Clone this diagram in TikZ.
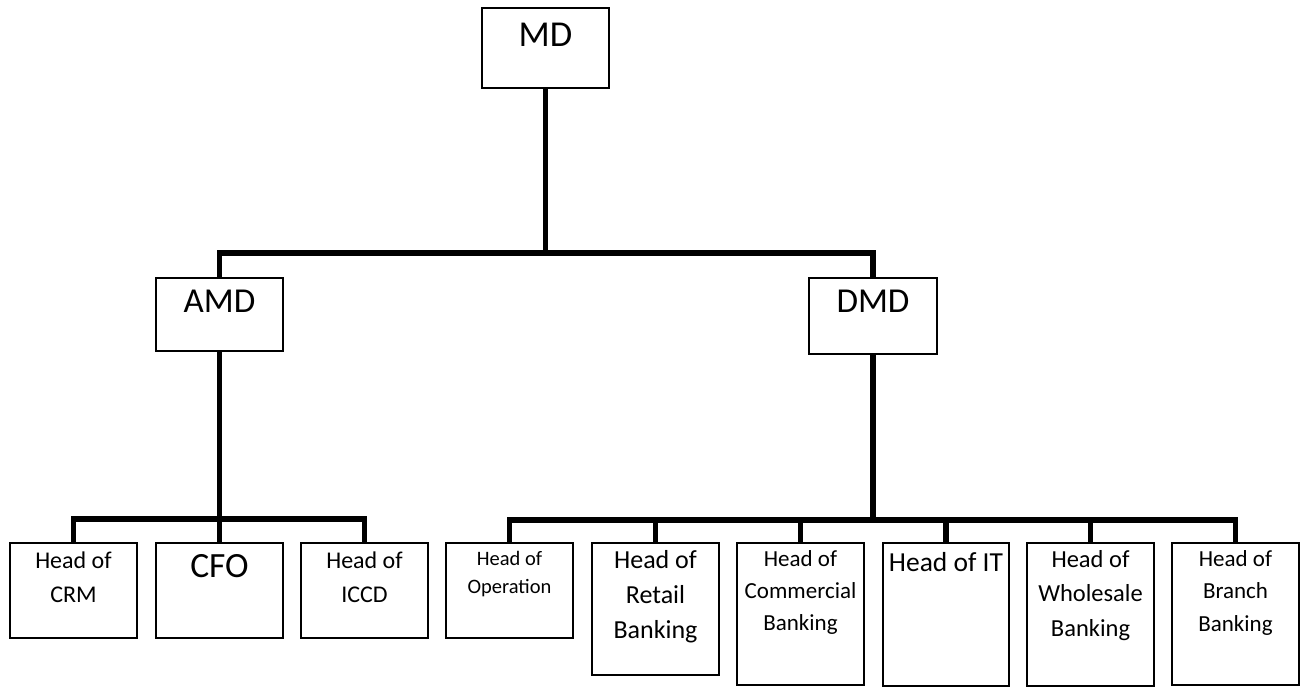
\documentclass[tikz,border=0pt]{standalone}
\usepackage{fontspec}
\setmainfont{Carlito}
\begin{document}
\begin{tikzpicture}[x=1pt,y=-1pt,
  box/.style={draw, line width=1.3pt, inner sep=0pt, outer sep=0pt, fill=white},
  lbl/.style={anchor=base, align=center, inner sep=0pt},
  conn/.style={line width=5.5pt, line join=miter}]
\useasboundingbox (0,0) rectangle (1308,687);
% boxes
\node[box, minimum width=127pt, minimum height=80pt] (md) at (545.5,48) {};
\node[box, minimum width=127pt, minimum height=73pt] (amd) at (219.5,314.5) {};
\node[box, minimum width=128pt, minimum height=76pt] (dmd) at (873,316) {};
\node[box, minimum width=127pt, minimum height=95pt] (crm) at (73.5,590.5) {};
\node[box, minimum width=127pt, minimum height=95pt] (cfo) at (219.5,590.5) {};
\node[box, minimum width=127pt, minimum height=95pt] (iccd) at (364.5,590.5) {};
\node[box, minimum width=127pt, minimum height=95pt] (op) at (509.5,590.5) {};
\node[box, minimum width=127pt, minimum height=132pt] (ret) at (655.5,609) {};
\node[box, minimum width=127pt, minimum height=142pt] (com) at (800.5,614) {};
\node[box, minimum width=126pt, minimum height=143pt] (it) at (946,614.5) {};
\node[box, minimum width=127pt, minimum height=143pt] (who) at (1090.5,614.5) {};
\node[box, minimum width=127pt, minimum height=142pt] (bra) at (1235.5,614) {};
% labels (base = baseline of last line)
\node[lbl, font=\fontsize{36.5}{40}\selectfont] (tmd) at (545.5,47) {MD};
\node[lbl, font=\fontsize{35}{38}\selectfont] (tamd) at (219.5,312) {AMD};
\node[lbl, font=\fontsize{35}{38}\selectfont] (tdmd) at (873,312) {DMD};
\node[lbl, font=\fontsize{24}{34}\selectfont] (tcrm) at (73.5,602) {Head of\\CRM};
\node[lbl, font=\fontsize{35.5}{38}\selectfont] (tcfo) at (219.5,577) {CFO};
\node[lbl, font=\fontsize{24}{34}\selectfont] (ticcd) at (364.5,602) {Head of\\ICCD};
\node[lbl, font=\fontsize{20.5}{28}\selectfont] (top) at (509.5,593) {Head of\\Operation};
\node[lbl, font=\fontsize{26}{35}\selectfont] (tret) at (655.5,638) {Head of\\Retail\\Banking};
\node[lbl, font=\fontsize{23}{32}\selectfont] (tcom) at (800.5,630) {Head of\\Commercial\\Banking};
\node[lbl, font=\fontsize{27.5}{32}\selectfont] (tit) at (946,571) {Head of IT};
\node[lbl, font=\fontsize{24.5}{34.5}\selectfont] (twho) at (1090.5,636) {Head of\\Wholesale\\Banking};
\node[lbl, font=\fontsize{23}{32.5}\selectfont] (tbra) at (1235.5,631) {Head of\\Branch\\Banking};
% connector junctions
\coordinate (j1) at (545.5,253);
\coordinate (j2) at (219.5,519);
\coordinate (j3) at (873,520);
% connectors
\draw[conn] (md.south) -- (j1);
\draw[conn] (amd.north) |- (j1) -| (dmd.north);
\draw[conn] (amd.south) -- (j2);
\draw[conn] (crm.north) |- (j2) -| (iccd.north);
\draw[conn] (j2) -- (cfo.north);
\draw[conn] (dmd.south) -- (j3);
\draw[conn] (op.north) |- (j3) -| (bra.north);
\draw[conn] (ret.north) -- (ret.north |- j3);
\draw[conn] (com.north) -- (com.north |- j3);
\draw[conn] (it.north) -- (it.north |- j3);
\draw[conn] (who.north) -- (who.north |- j3);
\end{tikzpicture}
\end{document}
